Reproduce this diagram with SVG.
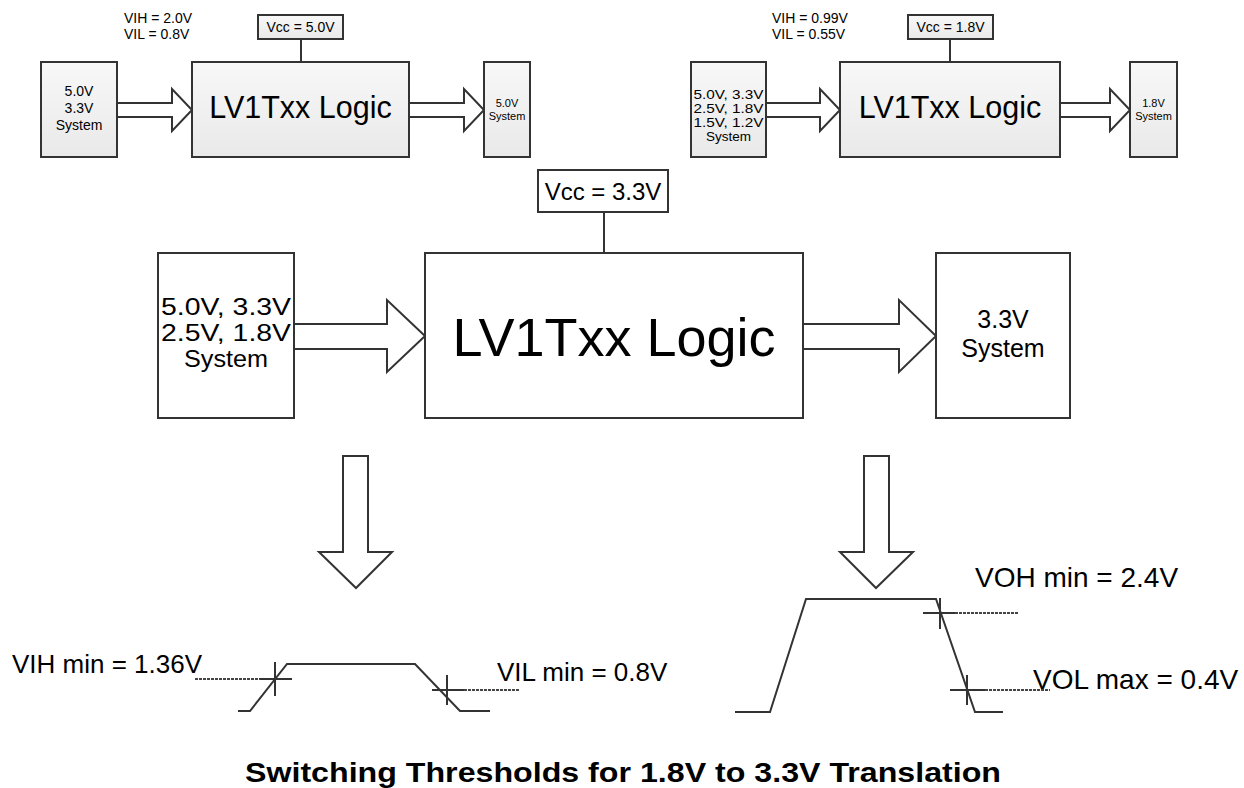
<svg xmlns="http://www.w3.org/2000/svg" width="1244" height="788" viewBox="0 0 1244 788">
<defs>
<linearGradient id="g" x1="0" y1="0" x2="0" y2="1">
<stop offset="0" stop-color="#f8f8f8"/>
<stop offset="1" stop-color="#e9e9e9"/>
</linearGradient>
</defs>
<style>
.b{fill:url(#g);stroke:#333;stroke-width:2}
.w{fill:#fff;stroke:#333;stroke-width:2}
.l{fill:none;stroke:#333;stroke-width:2}
.d{fill:none;stroke:#444;stroke-width:2;stroke-dasharray:3,1}
.t{font-family:"Liberation Sans",Arial,sans-serif;fill:#000}
.s{font-size:14px}
.m{font-size:25px}
.c{text-anchor:middle}
</style>
<rect width="1244" height="788" fill="#fff"/>

<g id="connectors">
<line class="l" x1="301" y1="39" x2="301" y2="62"/>
<polyline class="w" points="117,103 172,103 172,89 192,110 172,131 172,117 117,117"/>
<polyline class="w" points="409,103 464,103 464,89 484,110 464,131 464,117 409,117"/>
<line class="l" x1="950" y1="39" x2="950" y2="62"/>
<polyline class="w" points="766,103 820,103 820,89 840,110 820,131 820,117 766,117"/>
<polyline class="w" points="1060,103 1110,103 1110,89 1130,110 1110,131 1110,117 1060,117"/>
<line class="l" x1="604" y1="212" x2="604" y2="253"/>
<polyline class="w" points="294,324 387,324 387,300 425,336 387,372 387,349 294,349"/>
<polyline class="w" points="803,324 899,324 899,300 936,336 899,372 899,349 803,349"/>
<polygon class="w" points="343,456 368,456 368,552 392,552 356,588 319,552 343,552"/>
<polygon class="w" points="864,456 889,456 889,552 913,552 876,588 840,552 864,552"/>
</g>

<g id="top-left">
<text class="t s" x="124" y="23">VIH = 2.0V</text>
<text class="t s" x="124" y="39">VIL = 0.8V</text>
<g id="vcc50"><rect class="b" x="258" y="15" width="85" height="24"/><text class="t s c" x="300.5" y="32">Vcc = 5.0V</text></g>
<g id="src50"><rect class="b" x="41" y="62" width="76" height="95"/>
<text class="t s c" x="79" y="96">5.0V</text><text class="t s c" x="79" y="113">3.3V</text><text class="t s c" x="79" y="130">System</text></g>
<g id="logic50"><rect class="b" x="192" y="62" width="217" height="95"/><text class="t c" x="300.5" y="118" font-size="30.5">LV1Txx Logic</text></g>
<g id="dst50"><rect class="b" x="484" y="62" width="46" height="95"/>
<text class="t c" x="507" y="107" font-size="11">5.0V</text><text class="t c" x="507" y="120" font-size="11">System</text></g>
</g>

<g id="top-right">
<text class="t s" x="772" y="23">VIH = 0.99V</text>
<text class="t s" x="772" y="39">VIL = 0.55V</text>
<g id="vcc18"><rect class="b" x="908" y="15" width="85" height="24"/><text class="t s c" x="950.5" y="32">Vcc = 1.8V</text></g>
<g id="src18"><rect class="b" x="691" y="62" width="75" height="95"/>
<text class="t c" x="728.5" y="99" font-size="13" textLength="70" lengthAdjust="spacingAndGlyphs">5.0V, 3.3V</text>
<text class="t c" x="728.5" y="113" font-size="13" textLength="70" lengthAdjust="spacingAndGlyphs">2.5V, 1.8V</text>
<text class="t c" x="728.5" y="127" font-size="13" textLength="70" lengthAdjust="spacingAndGlyphs">1.5V, 1.2V</text>
<text class="t c" x="728.5" y="141" font-size="13.5">System</text></g>
<g id="logic18"><rect class="b" x="840" y="62" width="220" height="95"/><text class="t c" x="950" y="118" font-size="30.5">LV1Txx Logic</text></g>
<g id="dst18"><rect class="b" x="1130" y="62" width="47" height="95"/>
<text class="t c" x="1153.5" y="107" font-size="11">1.8V</text><text class="t c" x="1153.5" y="120" font-size="11">System</text></g>
</g>

<g id="middle">
<g id="vcc33"><rect class="w" x="538" y="170" width="130" height="42"/><text class="t c" x="603" y="200" font-size="24">Vcc = 3.3V</text></g>
<g id="src33"><rect class="w" x="158" y="253" width="136" height="165"/>
<text class="t c" x="226" y="315" font-size="23" textLength="130" lengthAdjust="spacingAndGlyphs">5.0V, 3.3V</text>
<text class="t c" x="226" y="341" font-size="23" textLength="130" lengthAdjust="spacingAndGlyphs">2.5V, 1.8V</text>
<text class="t c" x="226" y="367" font-size="24" textLength="84" lengthAdjust="spacingAndGlyphs">System</text></g>
<g id="logic33"><rect class="w" x="425" y="253" width="378" height="165"/><text class="t c" x="614" y="356" font-size="54">LV1Txx Logic</text></g>
<g id="dst33"><rect class="w" x="936" y="253" width="134" height="165"/>
<text class="t m c" x="1003" y="328">3.3V</text><text class="t m c" x="1003" y="357">System</text></g>
</g>

<g id="wave-in">
<polyline class="l" points="238,711 250,711 287,664 415,664 460,711 490,711"/>
<line class="d" x1="195" y1="679" x2="260" y2="679"/>
<line class="l" x1="260" y1="679" x2="292" y2="679"/>
<line class="l" x1="275" y1="662" x2="275" y2="696"/>
<line class="d" x1="464" y1="690" x2="520" y2="690"/>
<line class="l" x1="432" y1="690" x2="464" y2="690"/>
<line class="l" x1="447" y1="675" x2="447" y2="705"/>
<text class="t" x="12" y="673" font-size="26">VIH min = 1.36V</text>
<text class="t" x="497" y="681" font-size="26">VIL min = 0.8V</text>
</g>

<g id="wave-out">
<polyline class="l" points="735,712 770,712 806,599 936,599 975,712 1003,712"/>
<line class="l" x1="923" y1="613" x2="955" y2="613"/>
<line class="l" x1="940" y1="598" x2="940" y2="629"/>
<line class="d" x1="955" y1="613" x2="1019" y2="613"/>
<line class="l" x1="950" y1="690" x2="985" y2="690"/>
<line class="l" x1="967" y1="675" x2="967" y2="705"/>
<line class="d" x1="985" y1="690" x2="1050" y2="690"/>
<text class="t" x="975" y="587" font-size="28">VOH min = 2.4V</text>
<text class="t" x="1033" y="689" font-size="28">VOL max = 0.4V</text>
</g>

<text class="t c" x="623" y="782" font-size="28" font-weight="bold" textLength="756" lengthAdjust="spacingAndGlyphs">Switching Thresholds for 1.8V to 3.3V Translation</text>
</svg>
